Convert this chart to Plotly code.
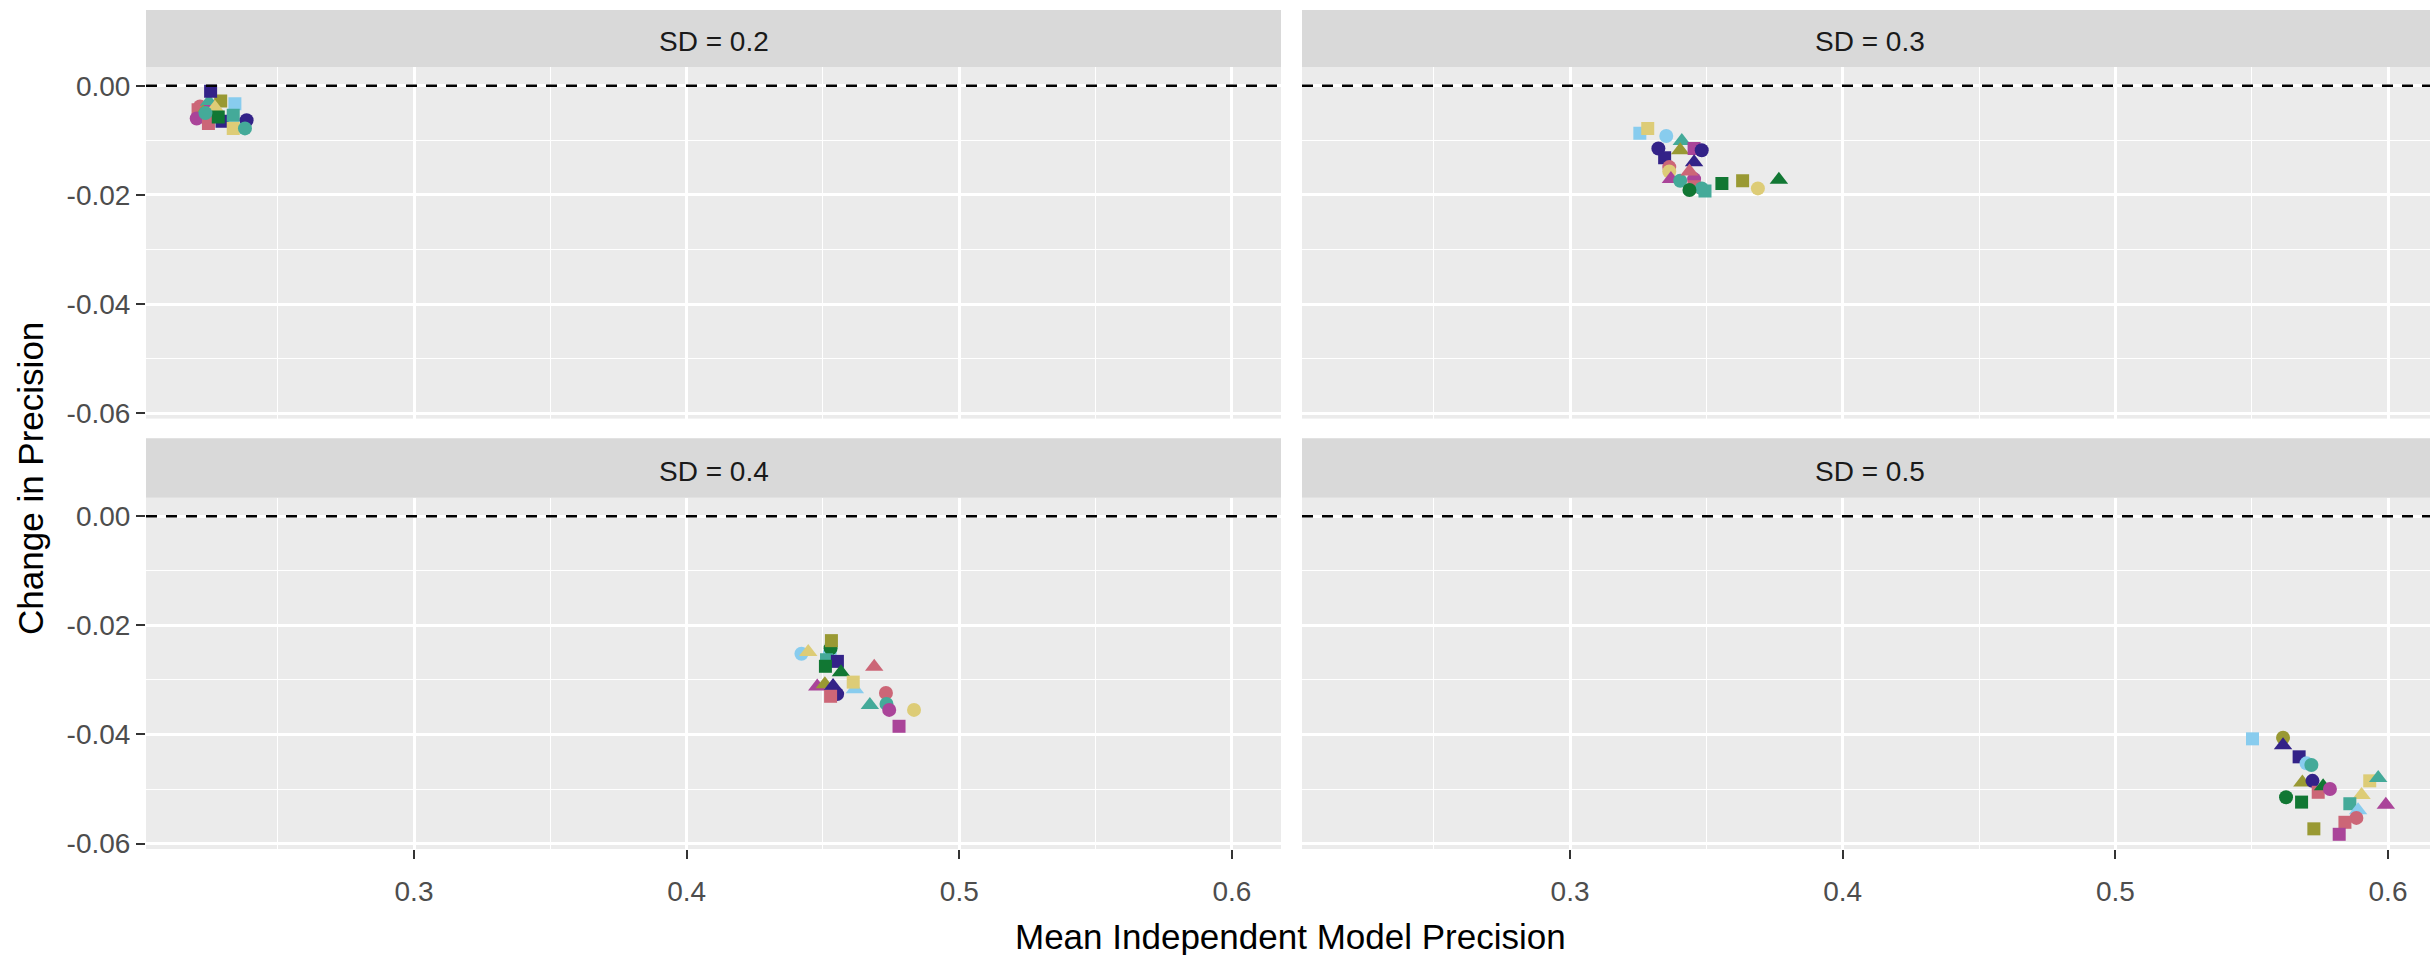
import plotly.graph_objects as go

# ---------------- data ----------------
palette = {
    "indigo": "#332288", "cyan": "#88CCEE", "teal": "#44AA99", "green": "#117733",
    "olive": "#999933", "sand": "#DDCC77", "rose": "#CC6677", "purple": "#AA4499",
}
shape_symbol = {"circle": "circle", "triangle": "triangle-up", "square": "square"}
shape_size = {"circle": 14, "triangle": 16, "square": 13}

panel_titles = ["SD = 0.2", "SD = 0.3", "SD = 0.4", "SD = 0.5"]

x_tickvals = [0.3, 0.4, 0.5, 0.6]
x_ticktext = ["0.3", "0.4", "0.5", "0.6"]
y_tickvals = [0.0, -0.02, -0.04, -0.06]
y_ticktext = ["0.00", "-0.02", "-0.04", "-0.06"]

# SD = 0.2
sd02_x = [0.2215, 0.2208, 0.2248, 0.2291, 0.2343, 0.2252, 0.2226, 0.2270, 0.2203,
          0.2246, 0.2296, 0.2282, 0.2337, 0.2386, 0.2337, 0.2380, 0.2235, 0.2254]
sd02_y = [-0.0038, -0.0044, -0.0029, -0.0028, -0.0033, -0.0047, -0.0049, -0.0040, -0.0060,
          -0.0069, -0.0065, -0.0057, -0.0054, -0.0063, -0.0078, -0.0078, -0.0050, -0.0010]
sd02_col = ["rose", "rose", "teal", "olive", "cyan", "purple", "olive", "sand", "purple",
            "rose", "indigo", "green", "teal", "indigo", "sand", "teal", "teal", "indigo"]
sd02_shape = ["circle", "square", "triangle", "square", "square", "square", "triangle", "triangle", "circle",
              "square", "square", "square", "square", "circle", "square", "circle", "circle", "square"]

# SD = 0.3
sd03_x = [0.3256, 0.3285, 0.3353, 0.3410, 0.3324, 0.3347, 0.3404, 0.3455, 0.3483, 0.3455,
          0.3364, 0.3364, 0.3370, 0.3404, 0.3455, 0.3438, 0.3455, 0.3483, 0.3495, 0.3438,
          0.3557, 0.3633, 0.3689, 0.3766]
sd03_y = [-0.0087, -0.0078, -0.0092, -0.0101, -0.0115, -0.0132, -0.0118, -0.0115, -0.0118, -0.0140,
          -0.0149, -0.0157, -0.0171, -0.0174, -0.0171, -0.0157, -0.0185, -0.0188, -0.0193, -0.0191,
          -0.0179, -0.0174, -0.0188, -0.0172]
sd03_col = ["cyan", "sand", "cyan", "teal", "indigo", "indigo", "olive", "purple", "indigo", "indigo",
            "rose", "sand", "purple", "teal", "purple", "rose", "rose", "teal", "teal", "green",
            "green", "olive", "sand", "green"]
sd03_shape = ["square", "square", "circle", "triangle", "circle", "square", "triangle", "square", "circle", "triangle",
              "circle", "circle", "triangle", "circle", "circle", "triangle", "square", "circle", "square", "circle",
              "square", "square", "circle", "triangle"]

# SD = 0.4
sd04_x = [0.4421, 0.4446, 0.4525, 0.4528, 0.4513, 0.4553, 0.4509, 0.4531, 0.4566, 0.4688,
          0.4617, 0.4611, 0.4479, 0.4507, 0.4537, 0.4552, 0.4528, 0.4731, 0.4672, 0.4733,
          0.4743, 0.4834, 0.4779]
sd04_y = [-0.0252, -0.0249, -0.0251, -0.0242, -0.0263, -0.0266, -0.0275, -0.0228, -0.0286, -0.0276,
          -0.0317, -0.0304, -0.0312, -0.0308, -0.0311, -0.0326, -0.0330, -0.0324, -0.0346, -0.0344,
          -0.0355, -0.0355, -0.0385]
sd04_col = ["cyan", "sand", "cyan", "green", "teal", "indigo", "green", "olive", "green", "rose",
            "cyan", "sand", "purple", "olive", "indigo", "indigo", "rose", "rose", "teal", "teal",
            "purple", "sand", "purple"]
sd04_shape = ["circle", "triangle", "circle", "circle", "square", "square", "square", "square", "triangle", "triangle",
              "triangle", "square", "triangle", "triangle", "triangle", "circle", "square", "circle", "triangle", "circle",
              "circle", "circle", "square"]

# SD = 0.5
sd05_x = [0.5503, 0.5615, 0.5615, 0.5674, 0.5701, 0.5719, 0.5686, 0.5723, 0.5744, 0.5762,
          0.5787, 0.5626, 0.5683, 0.5933, 0.5964, 0.5903, 0.5992, 0.5860, 0.5890, 0.5884,
          0.5842, 0.5728, 0.5821]
sd05_y = [-0.0408, -0.0406, -0.0420, -0.0441, -0.0453, -0.0456, -0.0488, -0.0485, -0.0506, -0.0495,
          -0.0500, -0.0515, -0.0524, -0.0485, -0.0480, -0.0511, -0.0529, -0.0527, -0.0539, -0.0553,
          -0.0561, -0.0573, -0.0583]
sd05_col = ["cyan", "olive", "indigo", "indigo", "cyan", "teal", "olive", "indigo", "rose", "green",
            "purple", "green", "green", "sand", "teal", "sand", "purple", "teal", "cyan", "rose",
            "rose", "olive", "purple"]
sd05_shape = ["square", "circle", "triangle", "square", "circle", "circle", "triangle", "circle", "square", "triangle",
              "circle", "circle", "square", "square", "triangle", "triangle", "triangle", "square", "triangle", "circle",
              "square", "square", "square"]

# ---------------- layout geometry ----------------
W, H = 2430, 955
FONT = "Liberation Sans, Arial, sans-serif"

xdom_left = [146 / W, 1281 / W]
xdom_right = [1302 / W, 1.0]
ydom_top = [1 - 423 / H, 1 - 68 / H]
ydom_bot = [1 - 858 / H, 1 - 503 / H]
xrange_left = [0.2017, 0.6180]
xrange_right = [0.2017, 0.6154]
yrange = [-0.0610, 0.0034]

panels = [
    (sd02_x, sd02_y, sd02_col, sd02_shape, "x", "y"),
    (sd03_x, sd03_y, sd03_col, sd03_shape, "x2", "y2"),
    (sd04_x, sd04_y, sd04_col, sd04_shape, "x3", "y3"),
    (sd05_x, sd05_y, sd05_col, sd05_shape, "x4", "y4"),
]

fig = go.Figure()
for px, py, pc, ps, xa, ya in panels:
    fig.add_trace(go.Scatter(
        x=px, y=py, mode="markers", xaxis=xa, yaxis=ya, showlegend=False,
        marker=dict(
            color=[palette[c] for c in pc],
            symbol=[shape_symbol[s] for s in ps],
            size=[shape_size[s] for s in ps],
            line=dict(width=0),
            opacity=1,
        ),
    ))

tickfont = dict(family=FONT, size=28, color="#4D4D4D")

def xaxis_cfg(domain, rng, anchor, show_labels):
    return dict(
        domain=domain, range=rng, anchor=anchor,
        tickvals=x_tickvals, ticktext=x_ticktext,
        showticklabels=show_labels,
        ticks="outside" if show_labels else "", ticklen=9, tickwidth=2, tickcolor="#333333",
        tickfont=tickfont, ticklabelstandoff=8,
        showgrid=True, gridcolor="white", gridwidth=2.6,
        minor=dict(dtick=0.05, tick0=0.25, showgrid=True, gridcolor="white", gridwidth=1.3),
        zeroline=False, showline=False,
    )

def yaxis_cfg(domain, anchor, show_labels):
    return dict(
        domain=domain, range=yrange, anchor=anchor,
        tickvals=y_tickvals, ticktext=y_ticktext,
        showticklabels=show_labels,
        ticks="outside" if show_labels else "", ticklen=9, tickwidth=2, tickcolor="#333333",
        tickfont=tickfont,
        showgrid=True, gridcolor="white", gridwidth=2.6,
        minor=dict(dtick=0.01, tick0=0.0, showgrid=True, gridcolor="white", gridwidth=1.3),
        zeroline=False, showline=False,
    )

fig.update_layout(
    width=W, height=H,
    margin=dict(l=0, r=0, t=0, b=0),
    paper_bgcolor="white", plot_bgcolor="#EBEBEB",
    xaxis=xaxis_cfg(xdom_left, xrange_left, "y", False),
    xaxis2=xaxis_cfg(xdom_right, xrange_right, "y2", False),
    xaxis3=xaxis_cfg(xdom_left, xrange_left, "y3", True),
    xaxis4=xaxis_cfg(xdom_right, xrange_right, "y4", True),
    yaxis=yaxis_cfg(ydom_top, "x", True),
    yaxis2=yaxis_cfg(ydom_top, "x2", False),
    yaxis3=yaxis_cfg(ydom_bot, "x3", True),
    yaxis4=yaxis_cfg(ydom_bot, "x4", False),
)

# dashed reference line at 0 in each panel
for xa, ya in [("x", "y"), ("x2", "y2"), ("x3", "y3"), ("x4", "y4")]:
    fig.add_shape(type="line", xref=f"{xa} domain", yref=ya, x0=0, x1=1, y0=0, y1=0,
                  line=dict(color="black", width=2.5, dash="11px,9px"), layer="above")

# facet strips
strip_rows = [(10, 68), (443, 503)]
strip_cols = [(146, 1281), (1302, W)]
k = 0
for (t, b) in strip_rows:
    for (l, r) in strip_cols:
        fig.add_shape(type="rect", xref="paper", yref="paper",
                      x0=l / W, x1=r / W, y0=1 - b / H, y1=1 - t / H,
                      fillcolor="#D9D9D9", line=dict(width=0), layer="below")
        fig.add_annotation(text=panel_titles[k], xref="paper", yref="paper",
                           x=((l + (l + 1135)) / 2) / W, y=1 - ((t + b) / 2 + 3) / H,
                           xanchor="center", yanchor="middle", showarrow=False,
                           font=dict(family=FONT, size=28, color="#1A1A1A"))
        k += 1

# axis titles
fig.add_annotation(text="Mean Independent Model Precision", xref="paper", yref="paper",
                   x=1291 / W, y=1 - 946 / H, xanchor="center", yanchor="middle",
                   showarrow=False, font=dict(family=FONT, size=35, color="black"))
fig.add_annotation(text="Change in Precision", xref="paper", yref="paper",
                   x=31 / W, y=1 - 484 / H, xanchor="center", yanchor="middle", textangle=-90,
                   showarrow=False, font=dict(family=FONT, size=35, color="black"))

fig.write_html("out.html")
